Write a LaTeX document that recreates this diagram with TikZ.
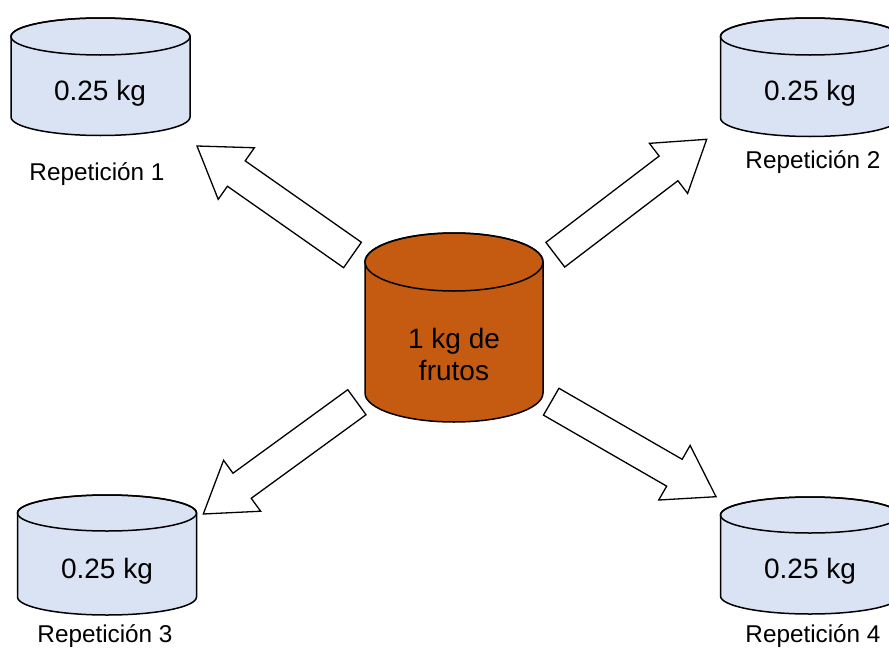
\documentclass[tikz,border=0pt]{standalone}
\usepackage{fontspec}
\setmainfont{Liberation Sans}
\usetikzlibrary{calc}
\definecolor{drumblue}{HTML}{DAE3F3}
\definecolor{drumorange}{HTML}{C55A11}
\tikzset{
  drumline/.style={draw=black, line width=1.5pt},
  bigarrow/.style={draw=black, fill=white, line width=1.3pt, line join=miter},
  qty/.style={inner sep=0pt, anchor=base, font=\fontsize{28}{33}\selectfont},
  rep/.style={inner sep=0pt, anchor=base, font=\fontsize{24.3}{29}\selectfont},
}
% #1 cx, #2 rx, #3 y of top ellipse, #4 y of bottom ellipse, #5 ry, #6 fill
\newcommand\drum[6]{%
  \filldraw[drumline, fill=#6] (#1-#2,#3) -- (#1-#2,#4)
    arc[start angle=180, end angle=0, x radius=#2, y radius=#5]
    -- (#1+#2,#3)
    arc[start angle=0, end angle=-180, x radius=#2, y radius=#5] -- cycle;
  \draw[drumline] (#1,#3) ellipse[x radius=#2, y radius=#5];
}
% block arrow from coordinate #1 (tail middle) to coordinate #2 (tip)
\newcommand\blockarrow[2]{%
  \coordinate (#1hb) at ($(#2)!48pt!(#1)$);
  \draw[bigarrow] ($(#1)!15.5pt!90:(#2)$) -- ($(#1hb)!15.5pt!90:(#2)$)
    -- ($(#1hb)!31.5pt!90:(#2)$) -- (#2)
    -- ($(#1hb)!31.5pt!-90:(#2)$) -- ($(#1hb)!15.5pt!-90:(#2)$)
    -- ($(#1)!15.5pt!-90:(#2)$) -- cycle;
}
\begin{document}
\begin{tikzpicture}[x=1pt, y=-1pt]
\useasboundingbox (0,0) rectangle (889,648);
\clip (0,0) rectangle (889,648);

% drums
\drum{100.5}{89.5}{36.5}{117}{18.5}{drumblue}
\drum{810}{89.5}{36.5}{118}{18.5}{drumblue}
\drum{107}{89.5}{513}{597}{18}{drumblue}
\drum{810}{89.5}{515}{596}{18}{drumblue}
\drum{454}{89}{262}{393}{29}{drumorange}

% texts
\node[qty] (q1) at (100,100) {0.25 kg};
\node[qty] (q2) at (810,100) {0.25 kg};
\node[qty] (q3) at (107,578) {0.25 kg};
\node[qty] (q4) at (810,578) {0.25 kg};
\node[inner sep=0pt, align=center, font=\fontsize{28}{32}\selectfont] (src) at (454,354) {1 kg de\\frutos};

\node[rep] (r1) at (97,180) {Repetición 1};
\node[rep] (r2) at (813,168) {Repetición 2};
\node[rep] (r3) at (105,642) {Repetición 3};
\node[rep] (r4) at (813,642) {Repetición 4};

% arrows
\coordinate (t1) at (352.5,255);   \coordinate (p1) at (197,146);
\coordinate (t2) at (555.3,254.7); \coordinate (p2) at (706.7,139.3);
\coordinate (t3) at (356.9,402.2); \coordinate (p3) at (203.3,514);
\coordinate (t4) at (551.2,401.7); \coordinate (p4) at (716,496.7);
\blockarrow{t1}{p1}
\blockarrow{t2}{p2}
\blockarrow{t3}{p3}
\blockarrow{t4}{p4}
\end{tikzpicture}
\end{document}
